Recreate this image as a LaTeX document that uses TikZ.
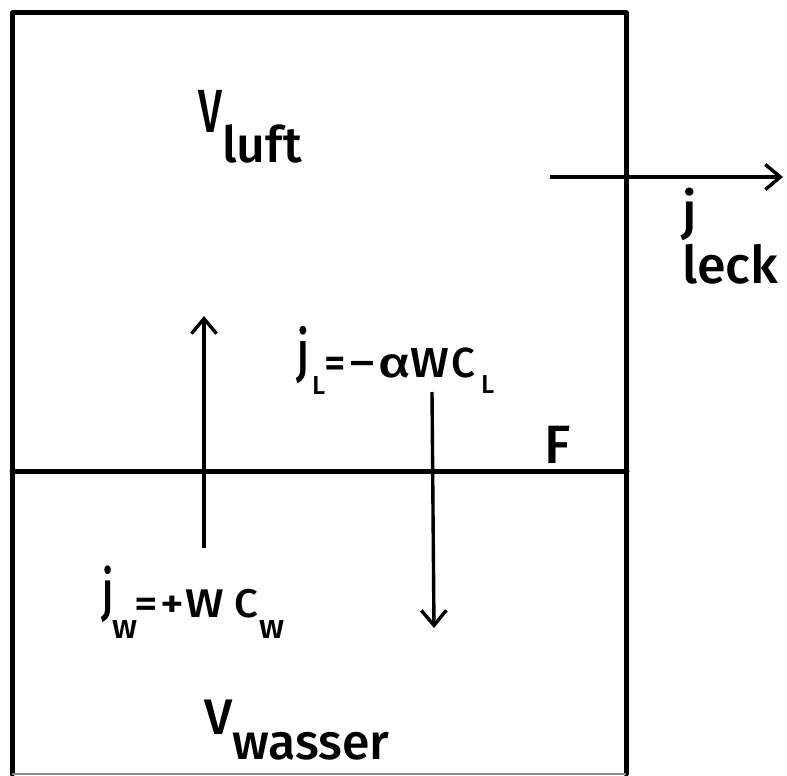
\documentclass[tikz,border=0pt]{standalone}
\usepackage{fontspec}
\setmainfont{Fira Sans}[UprightFont=* Medium]
\usetikzlibrary{arrows.meta}
\newcommand{\fs}[1]{\fontsize{#1}{#1}\selectfont}
% glyph placed with its centre at horizontal offset #1, raised by #2
\newcommand{\gl}[3]{\rlap{\hspace{#1}\makebox[0pt]{\raisebox{#2}{#3}}}}
\begin{document}
\begin{tikzpicture}[x=1pt,y=-1pt,
  wall/.style={line width=5pt,line cap=round,line join=round},
  flux/.style={line width=3.4pt,-{Straight Barb[length=15pt,width=25pt,line width=3.4pt]}},
  lbl/.style={inner sep=0pt,anchor=base west}]
\useasboundingbox (0,0) rectangle (787,776);
% box corners
\coordinate (tl) at (12,13);
\coordinate (tr) at (626,13);
\coordinate (bl) at (12,774);
\coordinate (br) at (626,774);
\coordinate (ml) at (12,471);
\coordinate (mr) at (627,471);
\draw[wall] (bl) -- (tl) -- (tr) -- (br);
\draw[line width=1.5pt,black!45] (bl) -- (br);
\draw[wall] (ml) -- (mr);
% flux arrows
\coordinate (upS) at (204,548);
\coordinate (upE) at (204,316);
\coordinate (dnS) at (432,392);
\coordinate (dnE) at (434,628);
\coordinate (lkS) at (550,177);
\coordinate (lkE) at (783,177);
\draw[flux] (upS) -- (upE);
\draw[flux] (dnS) -- (dnE);
\draw[flux] (lkS) -- (lkE);
% labels
\node[lbl,font=\fs{50}] (vluft) at (198,132) {\scalebox{0.85}[1.22]{V}\raisebox{-30pt}{luft}};
\node[lbl,font=\fs{52}] (jleck) at (682,229) {\rlap{\raisebox{-54pt}{\fs{52}leck}}j};
\node[lbl,font=\fs{42}] (jL) at (295,377) {%
  \gl{8pt}{6pt}{\scalebox{1}[1.35]{j}}%
  \gl{23pt}{-17pt}{\fs{26}L}%
  \gl{40pt}{0pt}{=}%
  \gl{67pt}{0pt}{\scalebox{1.3}[1]{−}}%
  \gl{99pt}{0pt}{\scalebox{1.3}[1]{α}}%
  \gl{134pt}{0pt}{\scalebox{1.1}[1]{W}}%
  \gl{168pt}{0pt}{C}%
  \gl{192pt}{-16pt}{\fs{26}L}%
  \hspace{200pt}};
\node[lbl,font=\fs{54}] (F) at (544,463) {F};
\node[lbl,font=\fs{40}] (jW) at (100,617) {%
  \gl{7pt}{7pt}{\scalebox{1}[1.4]{j}}%
  \gl{24pt}{-21pt}{\fs{34}w}%
  \gl{46pt}{0pt}{\scalebox{1.15}[1]{=}}%
  \gl{72pt}{0pt}{\scalebox{1.15}[1]{+}}%
  \gl{104pt}{0pt}{\scalebox{1.15}[1]{W}}%
  \gl{146pt}{0pt}{\scalebox{1.05}[1]{C}}%
  \gl{171pt}{-21pt}{\fs{34}w}%
  \hspace{180pt}};
\node[lbl,font=\fs{50}] (vw) at (204,734) {V\raisebox{-25pt}{wasser}};
\end{tikzpicture}
\end{document}
